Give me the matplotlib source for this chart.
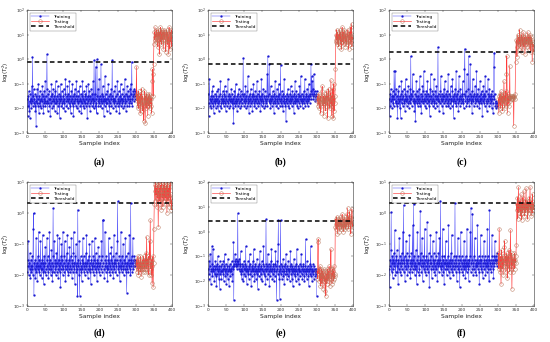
import numpy as np
import matplotlib
matplotlib.use("Agg")
import matplotlib.pyplot as plt

# ---- data: log10 of the statistic ----
train_a = [-1.6,-2.3,-1.5,-1.9,-1.3,-2.1,-1.7,-2.4,-1.4,-1.8,-1.6,-2.0,-1.1,-1.7,0.1,-1.9,-1.5,-1.2,-1.8,-1.6,
           -1.9,-1.4,-2.1,-1.7,-2.7,-1.5,-1.8,-1.2,-1.9,-1.6,-1.0,-1.8,-2.2,-1.5,-1.7,-1.3,-1.9,-1.6,-2.0,-1.4,
           -1.7,-1.1,-1.9,-1.5,-2.2,-1.6,-1.3,-1.8,-1.7,-0.9,-1.9,-1.5,-1.8,-1.2,0.2,-1.7,-2.1,-1.4,-1.8,-1.6,
           -1.3,-1.9,-1.6,-2.3,-1.5,-1.8,-1.0,-1.7,-2.0,-1.4,-1.6,-1.2,-1.9,-1.7,-1.5,-2.1,-1.3,-1.8,-0.9,-1.6,
           -1.8,-1.5,-2.2,-1.7,-1.1,-1.9,-1.6,-1.4,-1.8,-2.4,-1.5,-1.7,-1.0,-1.9,-1.6,-1.3,-1.8,-2.0,-1.5,-1.7,
           -1.2,-1.8,-1.6,-2.1,-1.4,-0.8,-1.7,-1.9,-1.5,-1.6,-1.1,-2.0,-1.7,-1.4,-1.8,-1.6,-0.9,-1.9,-1.5,-2.2,
           -1.7,-1.3,-1.8,-1.6,-1.0,-1.9,-1.5,-2.3,-1.7,-1.4,-1.8,-1.2,-1.6,-1.9,-1.5,-0.9,-1.7,-2.0,-1.6,-1.3,
           -1.8,-1.5,-2.1,-1.7,-1.1,-1.6,-1.9,-1.4,-1.7,-2.2,-1.5,-1.8,-0.9,-1.6,-1.9,-1.3,-1.7,-2.0,-1.5,-1.8,
           -1.4,-1.9,-1.6,-1.1,-1.8,-2.4,-1.5,-1.7,-1.0,-1.9,-1.6,-1.3,-1.8,-2.1,-1.5,-1.7,-1.2,-1.9,-1.6,-1.4,
           -1.8,-0.9,-1.6,-2.0,-0.05,-1.7,-1.4,-1.9,-0.3,-1.6,-1.8,-2.2,0.0,-1.5,-1.7,-1.2,-1.9,-1.6,-0.8,-1.8,
           -1.5,-1.9,-1.7,-0.2,-1.6,-2.0,-1.4,-1.8,-1.1,-1.7,-1.5,-2.3,-1.6,-1.9,-0.7,-1.7,-1.4,-1.8,-1.6,-2.1,
           -1.3,-1.8,-1.6,-1.0,-1.9,-1.5,-1.7,-2.2,-1.4,-1.8,-1.6,-1.2,-1.9,-1.5,-0.05,-1.7,-2.0,-1.6,-1.3,-1.8,
           -1.6,-1.9,-1.1,-1.7,-1.5,-2.1,-1.8,-1.4,-0.9,-1.6,-1.9,-1.7,-1.3,-1.8,-2.2,-1.5,-1.7,-1.0,-1.9,-1.6,
           -1.4,-1.8,-1.6,-2.0,-1.2,-1.7,-1.5,-1.9,-1.6,-0.8,-1.8,-1.4,-2.1,-1.7,-1.5,-1.1,-1.9,-1.6,-1.3,-1.8,
           -1.5,-1.9,-1.7,-1.2,-1.6,-1.0,-1.8,-1.4,-0.1,-1.6,-1.9,-1.5,-1.3,-1.7,-1.4,-1.2,-1.6,-1.5,-1.3,-1.4]
test_a = [-1.5,-0.3,-1.7,-1.4,-1.9,-1.6,-2.0,-1.3,-1.8,-1.5,-1.7,-2.2,-1.4,-1.9,-1.6,-1.2,-1.8,-2.1,-1.5,-1.7,
          -1.9,-2.5,-1.6,-1.3,-1.8,-2.6,-1.5,-1.7,-2.0,-1.4,-1.8,-1.6,-2.3,-1.5,-1.9,-1.7,-1.4,-2.0,-1.6,-1.8,
          -1.5,-1.9,-1.6,-2.2,-0.9,-0.4,-0.6,-1.5,-0.2,0.6,1.1,0.8,1.3,0.9,1.0,0.7,1.2,0.9,1.1,0.8,
          0.5,1.0,1.2,0.8,0.2,1.1,0.9,1.3,0.7,1.0,0.6,1.2,0.9,0.8,1.1,0.4,1.0,1.2,0.8,0.9,
          1.1,0.7,0.3,1.0,1.2,0.8,0.6,1.1,0.9,0.2,1.0,1.3,0.8,0.4,1.1,0.9,0.7,1.2,0.5,1.0]

train_b = [-1.4,-2.3,-1.8,-0.8,-1.6,-1.9,-1.5,-1.7,-2.0,-1.3,-1.8,-1.6,-1.1,-1.9,-1.5,-2.2,-1.7,-1.4,-1.8,-1.6,
           -2.0,-1.5,-1.7,-1.3,-1.9,-1.6,-1.8,-1.2,-2.1,-1.5,-1.7,-1.9,-1.4,-0.9,-1.6,-1.8,-2.0,-1.5,-1.7,-1.3,
           -1.8,-1.6,-1.9,-1.4,-1.7,-1.1,-1.8,-1.5,-2.1,-1.6,-1.3,-1.9,-1.7,-1.5,-0.8,-1.8,-1.6,-2.0,-1.4,-1.7,
           -1.5,-1.9,-1.6,-1.2,-1.8,-1.7,-1.4,-2.0,-1.6,-2.6,-1.5,-1.8,-1.3,-1.7,-1.9,-1.0,-1.6,-1.8,-1.5,-2.1,
           -1.7,-1.4,-1.9,-1.6,-1.2,-1.8,-1.5,-2.0,-1.7,-1.3,-1.6,-1.9,-1.4,-1.8,-1.6,-1.5,0.05,-1.7,-1.9,-1.4,
           -1.8,-1.6,-1.1,-2.0,-1.5,-1.7,-1.3,-1.9,-1.6,-0.7,-1.8,-1.5,-2.2,-1.7,-1.4,-1.6,-1.9,-1.2,-1.8,-1.5,
           -1.7,-2.1,-1.4,-1.6,-1.0,-1.8,-1.5,-1.9,-1.7,-1.3,-1.6,-2.0,-1.5,-1.8,-0.9,-1.6,-1.4,-1.9,-1.7,-1.5,
           -1.8,-1.3,-1.6,-2.1,-1.5,-1.7,-0.8,-1.9,-1.6,-1.4,-1.8,-1.2,-1.7,-2.0,-1.5,-1.6,-1.3,-1.9,-1.7,-1.5,
           -1.8,-1.6,-0.6,-1.9,0.13,-1.5,-1.7,-1.4,-0.2,-1.8,-1.6,-2.0,-1.1,-1.7,-1.5,-1.9,-1.6,-1.3,-1.8,-1.5,
           -1.7,-2.2,-1.4,-1.6,-0.9,-1.8,-1.5,-1.9,-1.7,-1.2,-1.6,-2.0,-1.5,-1.8,-1.0,-1.6,-1.4,-1.9,-1.7,-0.25,
           -1.6,-1.8,-1.3,-1.9,-1.5,-1.7,-2.1,-1.4,-1.6,-0.8,-1.8,-1.5,-1.9,-1.7,-2.5,-1.6,-1.4,-1.8,-1.6,-1.2,
           -1.9,-1.5,-1.7,-2.0,-1.4,-1.6,-1.8,-1.1,-1.7,-1.5,-1.9,-1.6,-1.3,-1.8,-1.5,-1.7,-2.2,-1.4,-1.6,-0.9,
           -1.8,-1.5,-1.7,-1.3,-1.9,-1.6,-2.0,-1.4,-1.7,-1.5,-1.8,-1.1,-1.6,-1.9,-1.5,-0.7,-1.7,-1.4,-1.8,-1.6,
           -2.0,-1.5,-1.7,-1.3,-1.8,-1.6,-0.8,-1.9,-1.5,-1.7,-1.4,-1.8,-1.2,-1.6,-1.9,-1.5,-1.7,-1.0,-1.6,-1.4,
           -1.8,-1.5,-1.3,-0.2,-1.6,-0.7,-1.4,-0.9,-1.5,-1.2,-1.6,-0.6,-1.4,-1.3,-1.7,-1.5,-1.6,-1.4,-1.5,-1.3]
test_b = [-1.7,-1.5,-1.9,-1.6,-1.8,-1.4,-2.0,-1.6,-1.7,-1.5,-2.2,-1.8,-1.6,-1.3,-1.1,-1.7,-1.9,-1.5,-2.3,-1.6,
          -1.8,-1.4,-1.7,-2.1,-1.5,-1.9,-1.6,-1.3,-1.8,-2.4,-1.5,-1.7,-1.2,-1.9,-1.6,-2.0,-1.4,-1.8,-0.85,-1.7,
          -2.3,-1.5,-1.9,-1.2,-2.4,-1.6,-1.0,-2.1,-1.5,-1.8,-0.4,0.7,1.0,0.8,1.2,0.6,0.9,1.1,0.7,0.5,
          1.0,0.8,1.2,0.9,0.6,1.1,0.8,0.4,1.0,1.3,0.7,0.9,1.1,0.6,0.8,1.2,0.9,0.5,1.0,0.7,
          1.1,0.8,0.6,1.0,0.9,1.2,0.7,0.4,1.0,0.8,1.1,0.6,0.9,1.3,0.7,1.45,0.5,0.9,0.8,1.0]

train_c = [-1.6,-2.3,-1.4,-1.9,-1.2,-1.7,-1.5,-2.0,-1.6,-1.3,-1.8,-1.5,-1.9,-0.5,-1.6,-1.4,-0.5,-1.8,-1.7,-1.2,
           -1.9,-1.5,-2.4,-1.6,-1.3,-1.8,-1.1,-1.7,-2.0,-1.5,-1.6,-2.4,-1.4,-0.9,-1.8,-1.6,-1.3,-1.9,-1.5,-1.7,
           -1.2,-1.8,-1.6,-2.1,-1.4,-0.8,-1.7,-1.5,-1.9,-1.3,-1.6,-1.8,-1.1,-1.7,-2.0,-1.5,-1.6,-1.2,-1.8,0.13,
           -1.6,-1.4,-1.9,-1.5,-0.6,-1.7,-1.3,-1.8,-1.6,-2.1,-1.4,-1.7,-2.5,-1.5,-0.9,-1.8,-1.6,-1.3,-1.9,-1.5,
           -1.7,-1.2,-1.8,-1.6,-0.7,-1.9,-1.4,-1.7,-2.2,-1.5,-1.6,-1.1,-1.8,-1.7,-1.3,-0.5,-1.6,-1.9,-1.4,-1.7,
           -1.5,-2.0,-1.3,-1.8,-1.6,-0.9,-1.7,-1.4,-1.9,-1.5,-1.7,-2.3,-1.2,-1.6,-0.6,-1.8,-1.5,-1.7,-1.3,-1.9,
           -1.6,-1.4,-1.8,-0.8,-1.7,-2.0,-1.5,-1.3,-1.8,-1.6,-1.1,-1.9,-1.5,-1.7,0.5,-1.6,-1.4,-2.1,-1.7,-1.5,
           -1.8,-1.3,-0.7,-1.6,-1.9,-1.4,-1.7,-1.5,-2.2,-1.6,-1.2,-1.8,-1.5,-0.9,-1.7,-1.4,-1.9,-1.6,-1.3,-1.8,
           -1.5,-1.7,-0.6,-1.9,-1.6,-1.4,-1.8,-2.0,-1.5,-1.1,-1.7,-1.6,-1.9,-1.3,-0.8,-1.7,-1.5,-2.4,-1.6,-1.4,
           -1.8,-1.2,-1.7,-1.5,-0.5,-1.9,-1.6,-1.4,-1.8,-1.3,-2.1,-1.6,-0.7,-1.7,-1.5,-1.9,-1.2,-1.6,-1.8,-1.4,
           -1.7,-1.5,-0.9,-1.8,-1.6,-2.0,-1.4,-0.4,0.43,-1.5,-1.7,-1.3,-1.9,-1.6,-0.6,-1.8,-1.5,-1.7,-1.2,0.13,
           -1.6,-1.9,-1.4,-0.2,-1.7,-1.5,-1.8,-1.3,-2.2,-1.6,-0.8,-1.7,-1.5,-1.9,-1.4,-1.6,-1.1,-1.8,-1.5,-1.7,
           -0.5,-1.6,-1.9,-1.4,-1.7,-1.2,-1.8,-1.5,-2.0,-1.6,-0.9,-1.7,-1.4,-1.8,-1.6,-1.3,-2.3,-1.5,-1.7,-1.1,
           -1.8,-1.6,-1.4,-1.9,-0.7,-1.5,-1.7,-1.3,-1.8,-2.1,-1.6,-1.4,-0.8,-1.7,-1.5,-1.9,-1.2,-1.6,-1.8,-1.4,
           -1.7,-1.5,-2.0,-1.3,-1.6,-1.8,-2.2,-1.5,-0.3,0.27,-1.6,-1.4,-1.9,-1.7,-1.8,-2.0,-1.9,-1.8,-1.9,-1.8]
test_c = [-1.9,-1.6,-2.2,-1.5,-1.8,-1.4,-2.0,-1.7,-1.3,-1.6,-1.9,-1.5,-2.1,-1.7,-1.4,-1.8,-0.9,-1.6,-2.0,-1.5,
          -1.7,-1.3,-1.9,-0.6,0.13,-1.6,-2.2,-1.4,-1.8,-1.5,-1.9,-1.6,-0.27,-1.7,-1.55,-1.5,-1.6,-1.55,-1.5,-1.6,
          -1.55,-1.5,-1.6,-2.7,-1.55,-1.5,-1.6,-1.4,-0.1,0.3,0.8,0.5,0.1,0.7,1.0,0.6,0.9,0.4,0.8,1.2,
          0.6,0.9,0.5,0.7,1.0,0.8,0.3,0.9,0.6,1.1,0.7,0.5,0.9,0.8,0.2,0.7,1.0,0.6,0.8,0.9,
          0.5,0.8,1.1,0.7,0.6,0.9,0.4,0.8,1.0,0.7,0.3,0.9,0.6,0.8,-0.1,0.7,0.5,0.6,0.3,0.4]

train_d = [-1.9,-1.5,-0.9,-1.7,-2.0,-1.6,-1.8,-1.3,-2.1,-1.7,-1.5,-1.9,-1.8,-1.4,-1.7,-2.0,-0.5,0.0,-2.65,-1.6,
           -1.8,-1.5,-2.1,-1.7,-0.8,-1.9,-1.6,-2.2,-1.4,-1.8,-1.7,-0.6,-1.9,-1.5,-2.0,-1.7,-0.9,-1.8,-1.6,-2.1,
           -1.5,-1.8,-0.7,-1.9,-1.6,-2.3,-1.4,-1.7,-1.9,-1.1,-1.6,-2.0,-1.8,-1.5,-0.8,-1.7,-1.9,-1.4,-2.1,-1.6,
           -1.8,-0.6,-1.7,-1.5,-2.0,-1.8,-1.2,-1.9,-1.6,-2.2,-1.4,0.16,-1.7,-1.9,-0.9,-1.6,-1.8,-1.5,-2.0,-1.7,
           -1.3,-1.9,-1.6,-0.7,-1.8,-2.1,-1.5,-1.7,-0.8,-1.9,-1.6,-2.4,-1.4,-1.8,-1.0,-1.7,-1.5,-2.0,-0.6,-1.8,
           -1.6,-1.9,-1.4,-0.9,-1.7,-2.2,-1.5,-1.8,-1.3,-1.7,-0.7,-1.9,-1.6,-2.0,-1.5,-1.8,-1.1,-1.7,-1.9,-1.4,
           -1.8,-0.8,-1.6,-2.1,-1.5,-1.7,-1.9,-1.3,-0.6,-1.8,-1.6,-2.3,-1.4,-1.7,-1.0,-1.9,-1.6,-1.8,-2.67,0.11,
           -1.7,-1.5,-2.0,-0.9,-2.67,-1.8,-1.6,-1.4,-1.9,-1.7,-2.2,-1.5,-1.8,-0.8,-1.6,-1.9,-1.4,-1.7,-2.0,-1.6,
           -1.8,-1.3,-1.7,-0.7,-1.9,-1.6,-1.5,-2.1,-1.8,-1.4,-1.7,-1.0,-1.9,-1.6,-1.8,-2.3,-1.5,-1.7,-0.9,-1.8,
           -1.6,-1.9,-1.4,-1.7,-2.0,-1.5,-0.8,-1.8,-1.6,-1.3,-1.9,-1.7,-2.2,-1.5,-1.8,-1.1,-1.6,-1.9,-1.4,-1.7,
           -2.0,-1.6,-1.8,-1.5,-0.9,-1.7,-1.9,-1.4,-0.23,-0.23,-1.6,-1.8,-2.1,-1.5,-0.6,-1.7,-1.9,-1.6,-1.4,-1.8,
           -1.7,-2.2,-1.5,-1.8,-0.8,-1.6,-1.9,-1.3,-1.7,-2.0,-1.5,-1.8,-1.1,-1.6,-1.9,-1.4,-1.7,-2.1,-1.6,-0.7,
           -1.8,-1.5,-1.9,-1.6,-1.3,-1.7,-2.0,-1.5,-0.9,0.38,-1.8,-1.6,-1.9,-1.4,-1.7,-2.2,-1.5,-1.8,-0.6,-1.7,
           -1.9,-1.4,-1.6,-1.8,-1.0,-1.7,-2.0,-1.5,-1.8,-1.6,-0.8,-1.9,-1.4,-1.7,-2.57,-1.6,-1.8,-1.3,-1.9,-1.5,
           -1.7,-0.7,-1.8,-1.6,-2.0,0.33,-1.5,-1.7,-1.4,-1.9,-1.6,-0.8,-1.8,-1.5,-1.7,-1.4,-1.6,-1.5,-1.7,-1.6]
test_d = [-1.7,-1.5,-1.9,-1.6,-1.8,-1.4,-2.0,-1.7,-1.5,-1.8,-1.6,-1.9,-1.4,-1.7,-2.05,-1.6,-1.8,-1.5,-1.7,-1.9,
          -1.6,-1.4,-1.8,-1.7,-1.5,-1.9,-1.6,-1.3,-1.8,-0.77,-1.7,-1.5,-1.9,-1.6,-1.4,-2.0,-1.7,-0.9,-1.5,-0.23,
          -1.8,-1.6,-2.0,-1.5,-2.27,-1.7,-1.4,-2.4,-1.6,-0.5,0.3,0.7,0.9,0.4,1.0,0.6,0.8,0.2,0.9,0.5,
          0.7,-0.45,0.6,1.0,0.4,0.8,0.3,0.9,0.6,0.1,0.7,1.0,0.5,0.8,0.2,0.6,0.9,0.4,0.7,1.0,
          0.5,0.8,0.3,0.9,0.6,0.0,0.7,1.0,0.4,0.6,0.8,0.2,0.9,0.5,1.0,0.3,0.6,0.1,0.4,0.2]

train_e = [-1.5,-1.9,-1.2,-1.7,-1.4,-0.9,-1.6,-2.1,-1.5,-1.3,-0.6,-1.8,-1.5,-0.7,-1.6,-1.4,-2.0,-1.5,-1.7,-1.2,
           -1.8,-1.4,-2.2,-1.5,-1.3,-1.7,-1.0,-1.6,-1.9,-1.4,-1.5,-2.3,-1.2,-1.7,-1.6,-1.4,-1.9,-1.3,-1.6,-1.5,
           -1.7,-1.2,-2.0,-1.5,-1.4,-0.9,-1.8,-1.6,-1.3,-2.1,-1.5,-1.7,-1.4,-1.9,-1.1,-1.6,-1.5,-2.2,-1.4,-1.6,
           -1.3,-1.8,-1.5,-1.6,-1.2,-1.7,-2.0,-1.4,-1.5,-0.43,-2.76,-1.4,-1.3,-0.9,-1.2,-1.4,-1.1,-1.3,-1.5,-1.2,
           -1.4,0.73,-1.3,-1.2,-1.5,-1.1,-1.3,-1.6,-1.4,-0.8,-1.7,-1.5,-1.9,-1.3,-1.6,-1.4,-2.0,-1.5,-1.2,-1.7,
           -1.5,-1.3,-1.8,-0.6,-1.6,-1.4,-2.1,-1.5,-1.7,-1.2,-1.6,-1.9,-1.4,-1.5,-0.9,-1.7,-1.3,-1.6,-2.2,-1.5,
           -1.4,-1.8,-1.2,-1.6,-1.5,-0.7,-1.7,-2.0,-1.4,-1.6,-1.3,-1.9,-1.5,-1.7,-1.1,-1.6,-2.3,-1.4,-1.5,-1.8,
           -1.3,-1.6,-0.8,-1.5,-1.9,-1.4,-1.7,-1.2,-2.0,-1.5,-1.6,-1.3,-0.6,-1.7,-1.4,-1.8,-1.5,-2.1,-1.3,0.5,
           -1.6,-1.4,-1.9,-1.5,-0.9,-1.7,-1.3,-1.6,-2.2,-1.4,-1.5,-1.8,-1.2,-1.6,-0.7,-1.5,-1.9,-1.4,-1.7,-1.3,
           -1.6,-2.0,-1.5,-1.3,-1.8,-0.8,-1.4,-1.6,-2.76,-1.5,-1.2,-1.7,-0.5,0.45,-1.6,-1.9,-1.4,-2.7,-1.5,0.47,
           -1.7,-1.3,-1.6,-1.9,-1.4,-1.5,-1.1,-1.8,-1.6,-2.1,-1.4,-1.7,-1.3,-1.5,-0.9,-1.6,-1.9,-1.4,-1.7,-1.5,
           -1.2,-1.8,-1.5,-1.6,-2.0,-1.4,-0.8,-1.7,-1.5,-1.3,-1.9,-1.6,-1.4,-2.2,-1.5,-1.7,-1.1,-1.6,-1.4,-1.8,
           -1.5,-2.0,-1.3,-1.6,-0.7,-1.7,-1.5,-1.9,-1.4,-1.6,-2.1,-1.5,-1.3,-1.8,-1.6,-1.4,-0.9,-1.7,-1.5,-1.9,
           -1.4,-1.6,-1.3,-1.8,-1.5,-2.0,-1.6,-1.4,-0.3,-1.7,-1.5,-1.9,-1.2,-1.6,-1.4,-1.8,-1.5,-2.2,-1.6,-1.3,
           -1.7,-1.5,-0.6,-1.8,-1.4,-1.6,-2.0,-1.5,-1.7,-1.3,-1.6,-1.9,-1.4,-1.6,-1.5,-1.8,-1.6,-1.7,-1.5,-2.6]
test_e = [-1.6,-1.9,-0.4,-0.3,-1.7,-1.5,-2.0,-1.8,-1.4,-2.2,-1.7,-1.9,-1.5,-2.1,-1.8,-1.6,-2.3,-1.7,-1.9,-1.5,
          -2.0,-1.8,-2.4,-1.6,-2.6,-1.9,-1.7,-2.1,-1.5,-1.8,-2.0,-1.6,-1.9,-1.4,-1.7,-2.2,-1.8,-1.5,-0.72,-1.9,
          -1.7,-2.1,-1.5,-1.8,-1.6,-2.0,-1.4,-1.9,-1.7,-1.8,0.2,0.5,0.3,0.1,0.6,0.4,-0.1,0.3,0.5,0.2,
          0.4,0.0,0.3,0.6,0.2,0.5,0.3,0.1,0.4,0.7,0.2,0.3,0.0,0.5,0.4,0.2,0.6,0.3,0.1,0.4,
          0.5,0.2,0.7,0.3,0.95,0.4,0.1,0.6,0.3,0.5,0.8,0.2,0.4,-0.1,0.6,0.3,0.9,0.5,0.2,0.4]

train_f = [-1.8,-2.4,-1.5,-1.7,-1.2,0.03,-1.9,-1.6,-1.4,-2.1,-1.5,-1.8,-1.3,-1.7,-1.6,-0.55,-2.0,-1.5,-1.9,-1.4,
           -1.7,-1.2,-1.9,-1.6,-2.3,-1.5,-1.8,-0.8,-1.6,-1.9,-1.4,-1.7,-2.0,-1.5,-1.3,-1.8,-1.6,-0.6,-1.5,0.25,
           -1.9,-1.6,-1.4,-2.2,-1.7,-1.5,-0.9,-1.8,-1.6,-1.3,-2.0,-1.5,-1.7,-1.9,-1.4,-0.7,-1.6,-1.8,-2.1,-1.5,
           -1.7,-1.3,-1.9,-1.6,-0.4,-1.8,-1.5,0.3,-1.7,-1.4,-2.0,-1.6,-1.8,-1.2,-1.7,-2.3,-1.5,-0.6,-1.9,-1.6,
           -1.4,-1.8,-1.6,-2.0,-1.5,0.08,-1.7,-1.3,-1.9,-1.6,-0.8,-1.5,-2.2,-1.7,-1.4,-1.8,-1.6,-0.5,-1.9,-1.5,
           -1.7,-2.0,-1.4,-1.6,-0.3,-1.8,-1.5,-1.9,-1.3,-1.7,-2.4,-1.6,-1.5,-0.7,-1.8,-1.6,-1.4,-2.1,-1.7,-1.5,
           -0.9,-1.8,-1.6,-1.3,-1.9,-1.5,-1.7,-2.0,-1.4,-0.6,-1.8,-1.6,-2.2,-1.5,-1.7,-1.3,-1.9,-1.6,-0.8,-1.7,
           -1.5,0.39,-1.8,-1.6,-2.0,-1.4,-1.7,-0.5,-1.9,-1.5,-1.6,-2.3,-1.4,-1.8,-1.6,-0.9,-1.7,-1.5,-2.0,-1.6,
           -1.8,-1.4,-1.7,-0.4,-1.9,-1.6,-1.5,-2.1,-1.7,-1.3,-1.8,-1.6,-0.7,-1.9,-1.5,-1.7,-2.0,-1.4,-1.6,-1.8,
           -1.5,0.33,-1.7,-1.9,-1.6,-1.4,-2.2,-1.7,-1.5,-0.8,-1.8,-1.6,-1.9,-1.4,-2.4,-1.7,-1.5,-0.6,-1.8,-1.6,
           -1.4,-1.9,-1.7,-1.5,-2.0,-1.6,-0.9,-1.8,-1.5,-1.7,-2.1,-1.4,-1.6,-1.9,-0.5,-1.7,-1.5,-1.8,-1.6,-2.2,
           -1.5,-1.7,-1.4,-0.6,-1.9,0.17,-1.6,-1.8,-1.5,-0.02,-1.7,-2.0,-1.6,-1.4,-1.8,-0.8,-1.5,-1.9,-1.7,-1.6,
           -2.0,-1.5,-1.7,-0.4,-1.8,-1.6,-1.4,-1.9,-2.3,-1.5,-1.7,-1.6,-0.7,-1.8,-1.5,-1.9,-1.4,-1.7,-2.1,-1.6,
           -1.5,-0.9,-1.8,-1.6,-1.4,-2.0,-1.7,-1.5,-1.9,-1.6,-0.5,-1.8,-1.4,-1.7,-1.5,-2.2,0.09,-1.6,-1.8,-1.5,
           -1.7,-1.9,-1.4,-0.7,-1.6,-1.8,-1.5,-2.1,-1.6,-1.4,-1.7,-0.9,-1.5,-1.6,-1.4,-1.5,-1.7,-1.3,-1.5,-1.6]
test_f = [-1.6,-1.3,-1.8,-0.5,-1.5,-1.9,-1.4,-1.7,-2.3,-1.5,-1.2,-1.8,-1.6,-1.4,-2.0,-1.5,-1.7,-1.1,-0.9,-1.6,
          -1.4,-1.9,-1.5,-1.7,-1.3,-2.1,-1.6,-1.4,-1.8,-1.5,-1.2,-1.7,-1.9,-1.4,-0.55,-1.6,-1.8,-1.3,-2.45,-1.5,
          -1.7,-1.4,-1.9,-1.5,-1.6,-1.3,-1.8,-1.5,-1.6,-1.4,-1.04,0.3,0.1,0.5,-0.2,0.2,0.84,0.0,0.3,0.1,
          0.4,-0.1,0.2,0.6,0.1,-0.23,0.3,0.0,0.5,0.2,0.1,0.7,-0.1,0.3,0.2,0.4,0.0,0.8,0.1,0.3,
          0.2,-0.2,0.4,0.1,0.3,0.0,0.5,0.2,0.84,0.1,0.3,-0.1,0.2,0.4,0.0,0.6,0.2,0.3,0.1,0.2]

thresholds = [0.78, 0.63, 2.0, 2.1, 2.8, 2.1]
ylims_exp = [(-3, 2), (-3, 2), (-3, 2), (-3, 1), (-3, 2), (-3, 1)]
panel_labels = ["(a)", "(b)", "(c)", "(d)", "(e)", "(f)"]
xticks = [0, 50, 100, 150, 200, 250, 300, 350, 400]
legend_labels = ["Training", "Testing", "Threshold"]

trains = [train_a, train_b, train_c, train_d, train_e, train_f]
tests = [test_a, test_b, test_c, test_d, test_e, test_f]

# ---- layout ----
fig = plt.figure(figsize=(5.5, 3.42), dpi=100)
W, H = 550.0, 342.0
lefts = [27, 208, 389]
rows = [(10, 133), (182, 306)]
aw = 145

for i in range(6):
    r, c = divmod(i, 3)
    top, bot = rows[r]
    ax = fig.add_axes([lefts[c] / W, 1 - bot / H, aw / W, (bot - top) / H])
    tr = 10.0 ** np.array(trains[i])
    te = 10.0 ** np.array(tests[i])
    xtr = np.arange(1, len(tr) + 1)
    xte = np.arange(len(tr) + 1, len(tr) + len(te) + 1)
    ax.plot(xtr, tr, '-', color='#4a4af8', lw=0.35, marker='.', ms=2.8,
            mec='#1818d0', mfc='#1818d0', mew=0.2, label=legend_labels[0])
    ax.plot(xte, te, '-', color='#ff3a3a', lw=0.45, marker='o', ms=2.6,
            mfc='none', mec='#b8765a', mew=0.35, label=legend_labels[1])
    ax.plot([0, 400], [thresholds[i]] * 2, '--', color='black', lw=1.1,
            dashes=(3, 2), label=legend_labels[2])
    ax.set_yscale('log')
    lo, hi = ylims_exp[i]
    ax.set_ylim(10.0 ** lo, 10.0 ** hi)
    ax.set_yticks([10.0 ** k for k in range(lo, hi + 1)])
    ax.minorticks_off()
    ax.set_xlim(0, 400)
    ax.set_xticks(xticks)
    ax.tick_params(direction='in', length=1.5, width=0.3, labelsize=3.2,
                   top=True, right=True, pad=1.5, colors='#333333', labelcolor='#333333')
    for s in ax.spines.values():
        s.set_linewidth(0.4)
        s.set_color('#333333')
    ax.set_xlabel('Sample index', fontsize=4.3, labelpad=1.5, color='#222222')
    ax.set_ylabel(r'log($T_s^2$)', fontsize=4.0, labelpad=1.5, color='#222222')
    leg = ax.legend(loc='upper left', fontsize=3.2, frameon=True, fancybox=False,
                    edgecolor='#555555', borderpad=0.4, handlelength=4.0,
                    labelspacing=0.25, borderaxespad=0.6)
    leg.get_frame().set_linewidth(0.3)
    cap_y = (162 if r == 0 else 333)
    fig.text((lefts[c] + aw / 2) / W, 1 - cap_y / H, panel_labels[i],
             ha='center', va='center', fontsize=7, fontweight='bold',
             family='Liberation Serif')

fig.savefig('out.png', dpi=100)
